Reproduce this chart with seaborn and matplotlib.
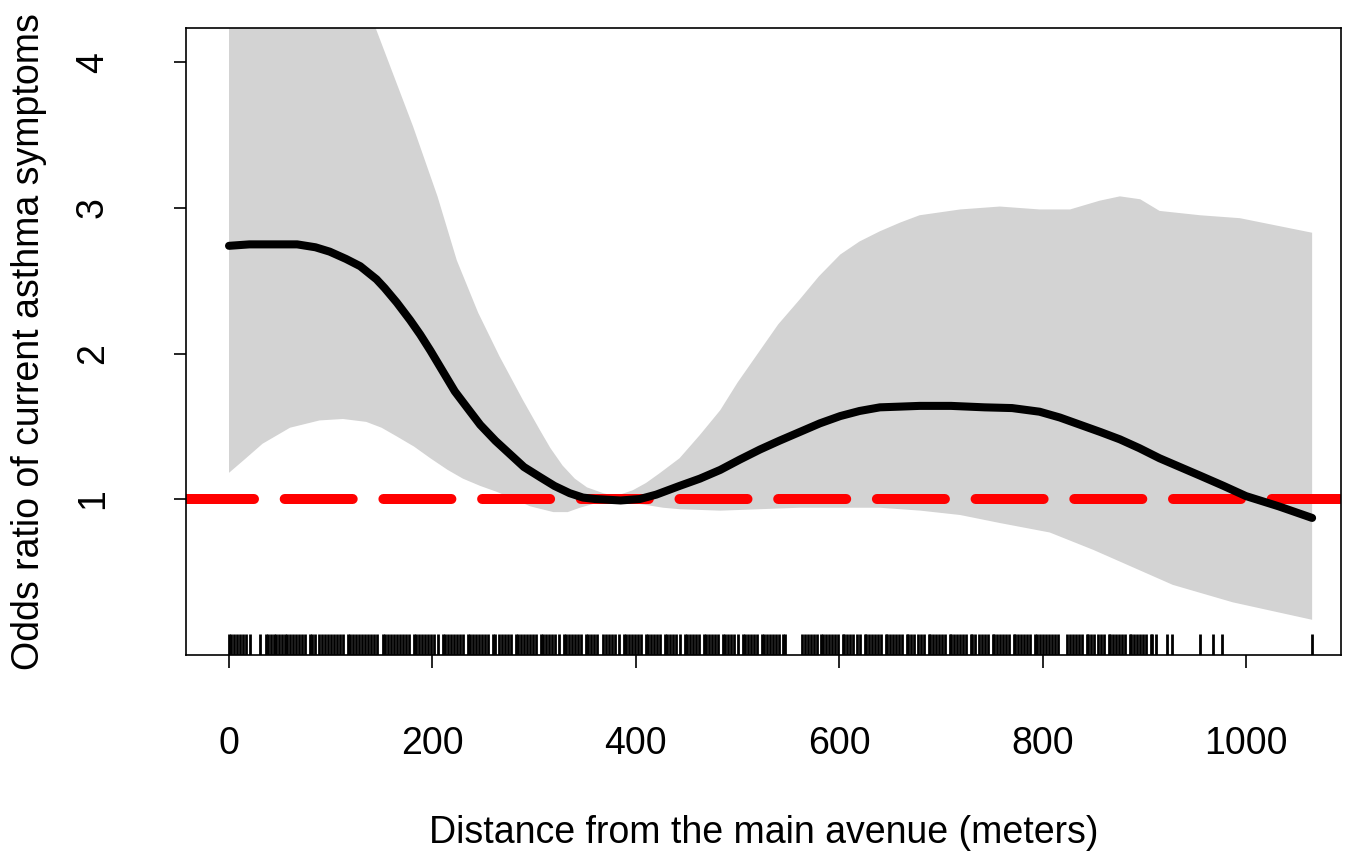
import matplotlib
matplotlib.use("Agg")
import matplotlib.pyplot as plt
import seaborn as sns
import pandas as pd

# fitted odds ratio curve
fit_x = [0, 20, 45, 67, 85, 99, 115, 129, 145, 153, 165, 178, 188, 198, 210,
         222, 235, 247, 262, 276, 290, 306, 320, 335, 348, 360, 385, 404, 420,
         443, 463, 483, 502, 522, 541, 561, 581, 601, 620, 640, 660, 679, 710,
         743, 770, 797, 817, 837, 857, 876, 895, 915, 935, 955, 978, 1000,
         1032, 1065]
fit_y = [2.74, 2.75, 2.75, 2.75, 2.73, 2.70, 2.65, 2.60, 2.51, 2.45, 2.35,
         2.23, 2.13, 2.02, 1.88, 1.74, 1.62, 1.51, 1.40, 1.31, 1.22, 1.15,
         1.09, 1.04, 1.01, 1.00, 0.99, 1.00, 1.03, 1.09, 1.14, 1.20, 1.27,
         1.34, 1.40, 1.46, 1.52, 1.57, 1.605, 1.63, 1.635, 1.64, 1.64, 1.63,
         1.625, 1.60, 1.56, 1.51, 1.46, 1.41, 1.35, 1.28, 1.22, 1.16, 1.09,
         1.02, 0.95, 0.87]

# confidence band
up_x = [0, 50, 100, 144, 181, 205, 224, 245, 266, 289, 306, 316, 328, 340, 352,
        368, 380, 397, 410, 424, 443, 463, 483, 500, 522, 540, 561, 580, 601,
        620, 640, 660, 679, 719, 758, 797, 827, 856, 876, 896, 915, 955, 994,
        1065]
up_y = [7.5, 6.4, 5.1, 4.24, 3.56, 3.08, 2.64, 2.28, 1.98, 1.68, 1.47, 1.35,
        1.23, 1.14, 1.08, 1.04, 1.02, 1.06, 1.11, 1.18, 1.28, 1.44, 1.61, 1.80,
        2.02, 2.20, 2.37, 2.53, 2.68, 2.77, 2.84, 2.90, 2.95, 2.99, 3.01, 2.99,
        2.99, 3.05, 3.08, 3.06, 2.98, 2.95, 2.93, 2.83]
lo_x = [0, 15, 33, 60, 89, 112, 135, 150, 165, 182, 198, 215, 230, 247, 263,
        280, 296, 319, 333, 345, 365, 380, 400, 427, 443, 483, 561, 640, 680,
        719, 758, 807, 850, 889, 928, 987, 1065]
lo_y = [1.18, 1.27, 1.38, 1.49, 1.54, 1.55, 1.53, 1.49, 1.43, 1.36, 1.28,
        1.20, 1.14, 1.09, 1.05, 1.00, 0.95, 0.91, 0.91, 0.94, 0.98, 0.99, 0.97,
        0.94, 0.93, 0.92, 0.94, 0.94, 0.92, 0.89, 0.835, 0.77, 0.65, 0.53,
        0.41, 0.29, 0.17]

# observed distances (rug)
distances = [
    0, 2, 5, 8, 11, 14, 17, 21, 30, 36, 38, 41, 44, 46, 49, 52, 55, 57, 60, 63,
    66, 69, 72, 75, 80, 82, 85, 88, 91, 94, 97, 100, 103, 106, 109, 112, 117,
    119, 122, 125, 128, 131, 134, 137, 140, 143, 146, 151, 153, 156, 159, 162,
    165, 168, 171, 174, 177, 182, 184, 187, 190, 193, 196, 199, 202, 205, 210,
    212, 215, 218, 221, 224, 227, 230, 235, 237, 240, 243, 246, 249, 252, 255,
    260, 262, 265, 268, 271, 274, 277, 282, 284, 287, 290, 293, 296, 299, 302,
    307, 309, 312, 315, 318, 321, 324, 329, 331, 334, 337, 340, 343, 346, 351,
    353, 356, 359, 362, 368, 371, 374, 377, 380, 383, 388, 390, 393, 396, 399,
    402, 405, 410, 412, 415, 418, 421, 424, 429, 431, 434, 437, 440, 443, 448,
    450, 453, 456, 459, 462, 467, 469, 472, 475, 478, 481, 486, 488, 491, 494,
    497, 500, 505, 507, 510, 513, 516, 519, 524, 526, 529, 532, 535, 538, 541,
    545, 547, 563, 566, 569, 572, 575, 578, 582, 584, 587, 590, 593, 596, 599,
    604, 605, 608, 611, 614, 617, 620, 625, 626, 629, 632, 635, 638, 641, 646,
    647, 650, 653, 656, 659, 662, 667, 668, 671, 674, 677, 680, 683, 688, 689,
    692, 695, 698, 701, 704, 709, 710, 713, 716, 719, 722, 725, 730, 731, 734,
    737, 740, 743, 746, 751, 752, 755, 758, 761, 764, 767, 772, 773, 776, 779,
    782, 785, 788, 793, 794, 797, 800, 803, 806, 809, 812, 815, 824, 827, 830,
    833, 836, 839, 844, 845, 848, 851, 854, 857, 860, 865, 866, 869, 872, 875,
    878, 881, 886, 887, 890, 893, 896, 899, 902, 907, 908, 911, 922, 927, 955,
    968, 976, 1065,
]

sns.set_style("ticks")
plt.rcParams["font.family"] = ["Liberation Sans", "DejaVu Sans"]
plt.rcParams["text.color"] = "black"
plt.rcParams["axes.labelcolor"] = "black"

fig = plt.figure(figsize=(13.61, 8.52), dpi=100)
ax = fig.add_axes([186 / 1361, 1 - 655 / 852, (1341 - 186) / 1361, (655 - 28) / 852])

band_x = up_x + lo_x[::-1]
band_y = up_y + lo_y[::-1]
ax.fill(band_x, band_y, color="#d3d3d3", lw=0, zorder=1)

ax.axhline(1, color="red", lw=7.2, linestyle=(0, (6.8, 3.07)),
           dash_capstyle="round", zorder=2)

fit = pd.DataFrame({"distance": fit_x, "odds": fit_y})
sns.lineplot(data=fit, x="distance", y="odds", color="black", linewidth=5.8,
             solid_capstyle="round", solid_joinstyle="round", ax=ax, zorder=3)

sns.rugplot(x=distances, height=0.033, color="black", linewidth=2.0, ax=ax,
            expand_margins=False)

ax.set_xlim(-42.3, 1093.4)
ax.set_ylim(-0.072, 4.237)
ax.set_xticks([0, 200, 400, 600, 800, 1000])
ax.set_yticks([1, 2, 3, 4])
for s in ax.spines.values():
    s.set_visible(True)
    s.set_linewidth(1.2)
    s.set_color("black")
ax.tick_params(axis="both", length=9, width=1.2, color="black",
               labelsize=27, labelcolor="black")
ax.tick_params(axis="x", pad=42)
ax.tick_params(axis="y", pad=45)
for lab in ax.get_yticklabels():
    lab.set_rotation(90)
    lab.set_va("center")

ax.set_xlabel("Distance from the main avenue (meters)", fontsize=27,
              labelpad=38, color="black")
ax.set_ylabel("Odds ratio of current asthma symptoms", fontsize=27,
              labelpad=20, color="black")

fig.savefig("out.png", dpi=100)
plt.close(fig)
